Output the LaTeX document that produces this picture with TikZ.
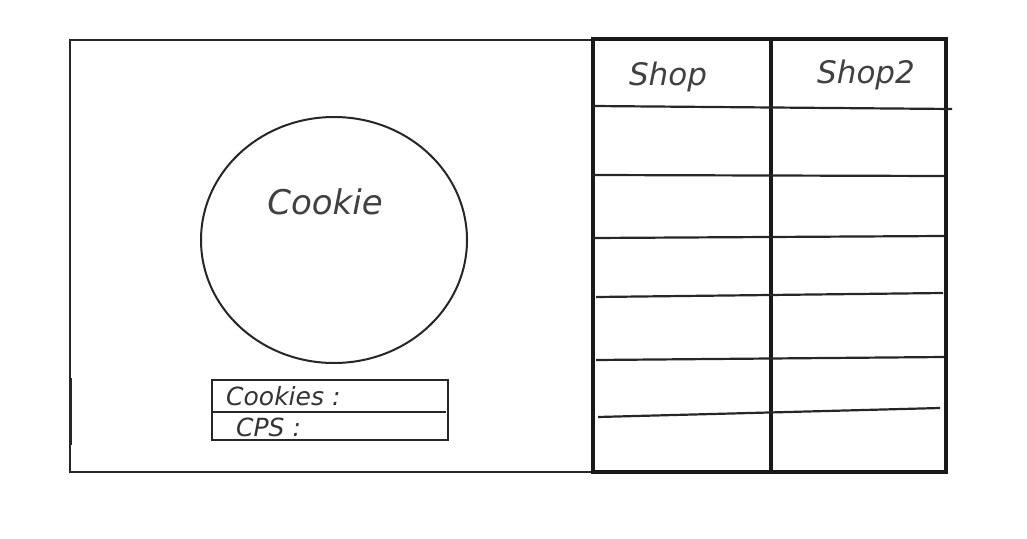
\documentclass[tikz,border=0pt]{standalone}
\usepackage{fontspec}
\setmainfont{DejaVu Sans}
\usetikzlibrary{shapes.geometric}
\tikzset{
  frame/.style={draw=black!85, line width=2pt},
  tbl/.style={draw=black!90, line width=3.4pt},
  rowline/.style={draw=black!85, line width=2.2pt},
  hand/.style={font=\fontsize{31}{33}\selectfont\itshape, text=black!75, inner sep=0pt},
  handsmall/.style={font=\fontsize{25}{27}\selectfont\itshape, text=black!80, inner sep=0pt, anchor=west}
}
\begin{document}
\begin{tikzpicture}[x=1pt,y=-1pt]
\useasboundingbox (0,0) rectangle (1027,538);
% outer frame (left part)
\draw[frame] (593,40) -- (70,40) -- (70,472) -- (593,472);
\draw[line width=3pt, black!85] (70,378) -- (70,445);
% cookie circle
\node[ellipse, draw=black!85, line width=2pt, minimum width=266pt, minimum height=246pt, inner sep=0pt] (cookie) at (334,240) {};
\node[hand, font=\fontsize{34}{36}\selectfont\itshape] (cookietxt) at (325,202) {Cookie};
% stats box
\draw[frame] (212,380) rectangle (448,440);
\draw[frame] (212,412) -- (446,412);
\node[handsmall] (cookies) at (226,396) {Cookies :};
\node[handsmall] (cps) at (236,427) {CPS :};
% shop table
\draw[tbl] (593,39) rectangle (946,472);
\draw[tbl] (771,39) -- (771,472);
\draw[rowline] (593,106) -- (952,109);
\draw[rowline] (593,175) -- (944,176);
\draw[rowline] (593,238) -- (944,236);
\draw[rowline] (596,297) -- (943,293);
\draw[rowline] (596,360) -- (944,357);
\draw[rowline] (598,417) -- (940,408);
\node[hand] (shop1) at (668,77) {Shop};
\node[hand] (shop2) at (866,75) {Shop2};
\end{tikzpicture}
\end{document}
